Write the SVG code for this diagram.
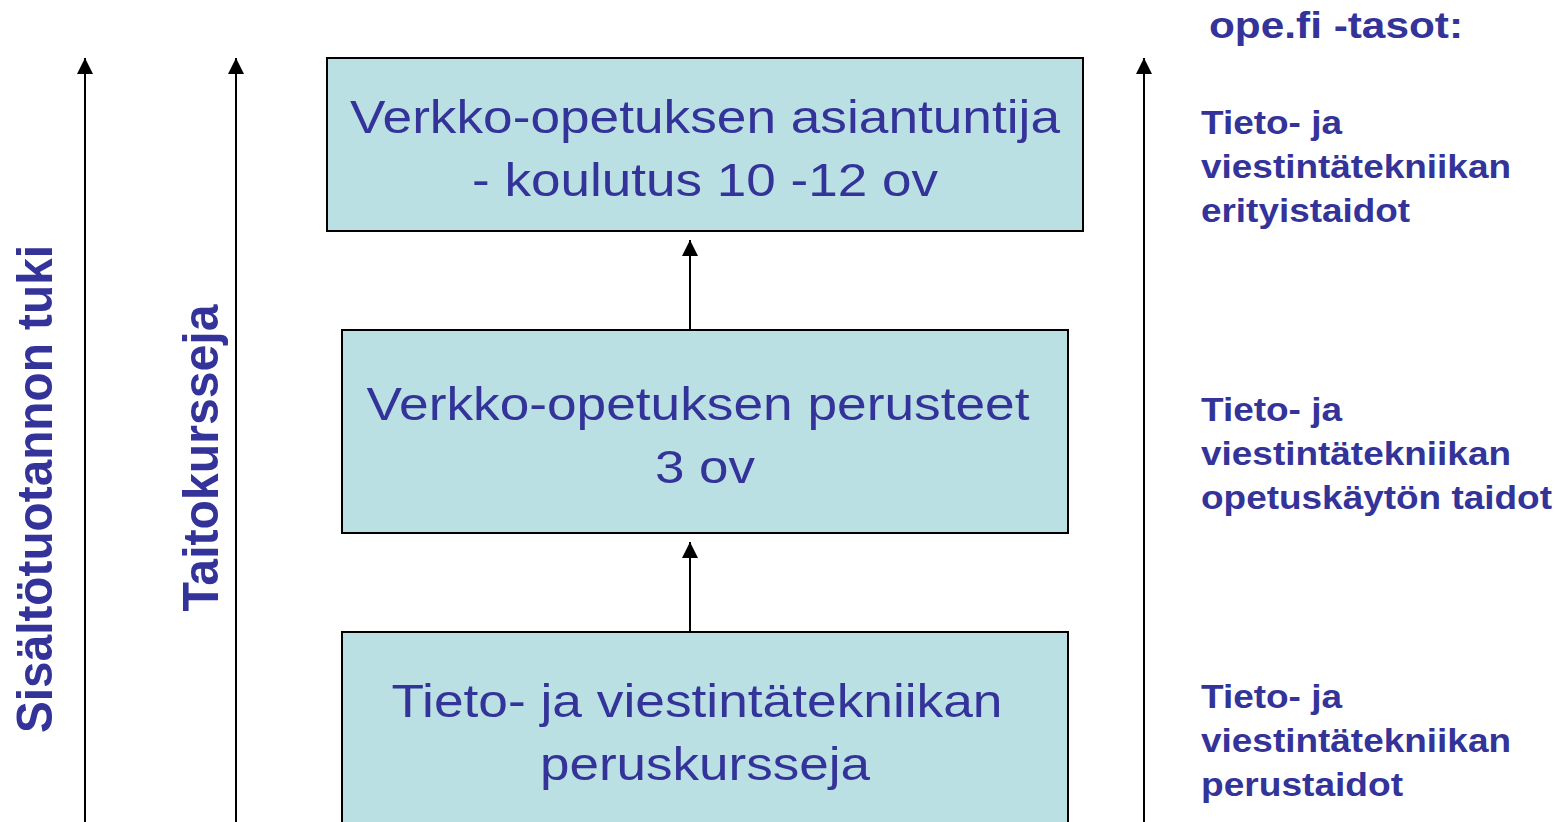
<svg xmlns="http://www.w3.org/2000/svg" width="1568" height="822" viewBox="0 0 1568 822">
<style>
.box{fill:#BBE0E3;stroke:#000;stroke-width:2}
.bt{font-family:"Liberation Sans",Arial,sans-serif;font-size:47px;fill:#333399;text-anchor:middle}
.lb{font-family:"Liberation Sans",Arial,sans-serif;font-weight:bold;font-size:33px;fill:#333399}
.vt{font-family:"Liberation Sans",Arial,sans-serif;font-weight:bold;font-size:50px;fill:#333399;text-anchor:middle}
.ln{stroke:#000;stroke-width:2;fill:none;marker-end:url(#ah)}
</style>
<defs>
<marker id="ah" viewBox="0 0 10 10" refX="10" refY="5" markerWidth="16" markerHeight="16" markerUnits="userSpaceOnUse" orient="auto">
<path d="M0,0 L10,5 L0,10 z" fill="#000"/>
</marker>
</defs>
<rect width="1568" height="822" fill="#fff"/>
<g id="connectors">
<line class="ln" x1="85" y1="822" x2="85" y2="58"/>
<line class="ln" x1="236" y1="822" x2="236" y2="58"/>
<line class="ln" x1="1144" y1="822" x2="1144" y2="58"/>
<line class="ln" x1="690" y1="330" x2="690" y2="240"/>
<line class="ln" x1="690" y1="632" x2="690" y2="542"/>
</g>
<g id="box-expert">
<rect class="box" x="327" y="58" width="756" height="173"/>
<text class="bt" x="705" y="133" textLength="710" lengthAdjust="spacingAndGlyphs">Verkko-opetuksen asiantuntija</text>
<text class="bt" x="705" y="196" textLength="466" lengthAdjust="spacingAndGlyphs">- koulutus 10 -12 ov</text>
</g>
<g id="box-basics">
<rect class="box" x="342" y="330" width="726" height="203"/>
<text class="bt" x="698" y="420" textLength="663" lengthAdjust="spacingAndGlyphs">Verkko-opetuksen perusteet</text>
<text class="bt" x="705" y="483" textLength="100" lengthAdjust="spacingAndGlyphs">3 ov</text>
</g>
<g id="box-courses">
<rect class="box" x="342" y="632" width="726" height="200"/>
<text class="bt" x="697" y="717" textLength="611" lengthAdjust="spacingAndGlyphs">Tieto- ja viestintätekniikan</text>
<text class="bt" x="705" y="780" textLength="330" lengthAdjust="spacingAndGlyphs">peruskursseja</text>
</g>
<g id="label-left1">
<text class="vt" transform="translate(52,489) rotate(-90)" textLength="488" lengthAdjust="spacingAndGlyphs">Sisältötuotannon tuki</text>
</g>
<g id="label-left2">
<text class="vt" transform="translate(218,458) rotate(-90)" textLength="307" lengthAdjust="spacingAndGlyphs">Taitokursseja</text>
</g>
<g id="label-title">
<text class="lb" x="1209" y="38" style="font-size:37px" textLength="254" lengthAdjust="spacingAndGlyphs">ope.fi -tasot:</text>
</g>
<g id="label-level3">
<text class="lb" x="1201" y="134" textLength="141" lengthAdjust="spacingAndGlyphs">Tieto- ja</text>
<text class="lb" x="1201" y="178" textLength="310" lengthAdjust="spacingAndGlyphs">viestintätekniikan</text>
<text class="lb" x="1201" y="222" textLength="209" lengthAdjust="spacingAndGlyphs">erityistaidot</text>
</g>
<g id="label-level2">
<text class="lb" x="1201" y="421" textLength="141" lengthAdjust="spacingAndGlyphs">Tieto- ja</text>
<text class="lb" x="1201" y="465" textLength="310" lengthAdjust="spacingAndGlyphs">viestintätekniikan</text>
<text class="lb" x="1201" y="509" textLength="351" lengthAdjust="spacingAndGlyphs">opetuskäytön taidot</text>
</g>
<g id="label-level1">
<text class="lb" x="1201" y="708" textLength="141" lengthAdjust="spacingAndGlyphs">Tieto- ja</text>
<text class="lb" x="1201" y="752" textLength="310" lengthAdjust="spacingAndGlyphs">viestintätekniikan</text>
<text class="lb" x="1201" y="796" textLength="202" lengthAdjust="spacingAndGlyphs">perustaidot</text>
</g>
</svg>
